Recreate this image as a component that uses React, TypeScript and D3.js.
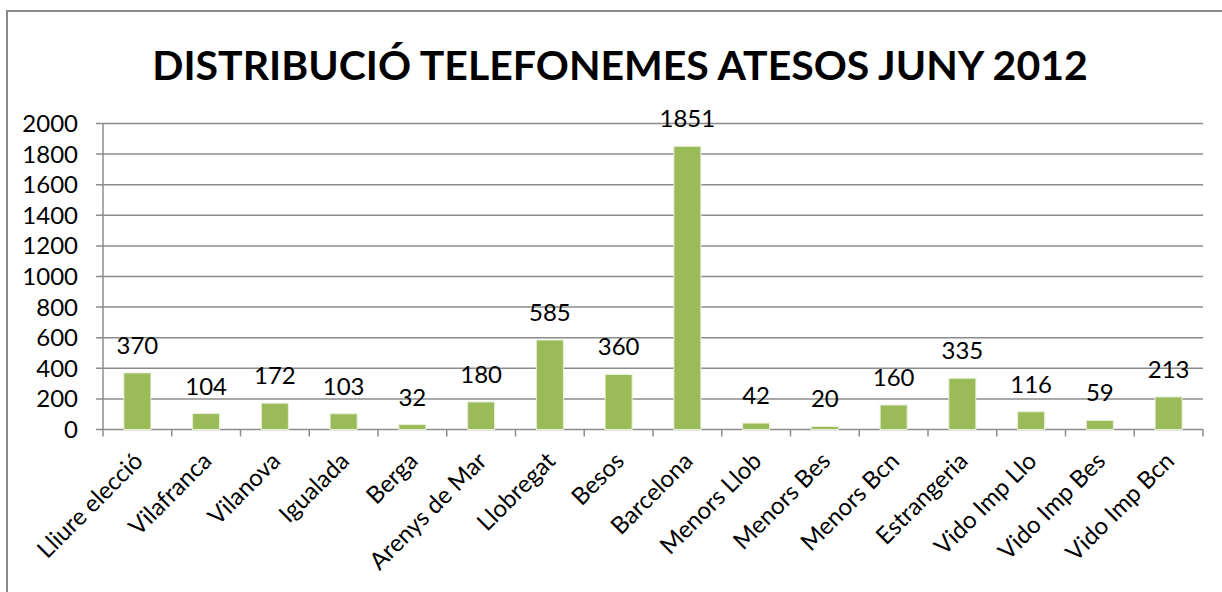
import React from "react";
import * as d3 from "d3";

const categories = [
  "Lliure elecció", "Vilafranca", "Vilanova", "Igualada", "Berga", "Arenys de Mar",
  "Llobregat", "Besos", "Barcelona", "Menors Llob", "Menors Bes", "Menors Bcn",
  "Estrangeria", "Vido Imp Llo", "Vido Imp Bes", "Vido Imp Bcn",
];
const values = [370, 104, 172, 103, 32, 180, 585, 360, 1851, 42, 20, 160, 335, 116, 59, 213];
const yTicks = [0, 200, 400, 600, 800, 1000, 1200, 1400, 1600, 1800, 2000];
const title = "DISTRIBUCIÓ TELEFONEMES ATESOS JUNY 2012";

const W = 1222, H = 592;
const left = 103, right = 1203, top = 123.5, bottom = 429.5;
const font = "Lato, 'Open Sans', sans-serif";
const grid = "#8c8c8c";

export default function App() {
  const x = d3.scaleBand<string>().domain(categories).range([left, right]).padding(0);
  const y = d3.scaleLinear().domain([0, 2000]).range([bottom, top]);
  const bandW = x.bandwidth();
  const edges = d3.range(categories.length + 1).map((i) => left + i * bandW);
  const cx = (c: string) => (x(c) as number) + bandW / 2;
  const bw = 27;
  return (
    <svg width={W} height={H} style={{ position: "absolute", left: 0, top: 0, background: "#fff" }}>
      <rect x={7} y={11} width={1240} height={620} fill="#fff" stroke="#8a8a8a" strokeWidth={2} />
      <text x={620} y={80} textAnchor="middle" fontFamily={font} fontWeight="bold" fontSize={41} fill="#000">{title}</text>
      {yTicks.map((t) => (
        <g key={t}>
          <line x1={left - 7} x2={right} y1={y(t)} y2={y(t)} stroke={grid} strokeWidth={1.5} />
          <text x={left - 25} y={y(t) + 8.5} textAnchor="end" fontFamily={font} fontSize={24} fill="#000">{t}</text>
        </g>
      ))}
      <line x1={left} x2={left} y1={top} y2={bottom} stroke={grid} strokeWidth={1.5} />
      {edges.map((e, i) => (
        <line key={i} x1={e} x2={e} y1={bottom} y2={bottom + 7} stroke={grid} strokeWidth={1.5} />
      ))}
      {values.map((v, i) => (
        <g key={i}>
          <rect x={cx(categories[i]) - bw / 2} y={y(v)} width={bw} height={bottom - y(v)} fill="#9bbb59" stroke="#e8f0d8" strokeWidth={1} />
          <text x={cx(categories[i])} y={y(v) - 19} textAnchor="middle" fontFamily={font} fontSize={24} fill="#000">{v}</text>
        </g>
      ))}
      {categories.map((c) => (
        <text key={c} transform={`translate(${cx(c) + 7},${bottom + 33}) rotate(-45)`} textAnchor="end"
          fontFamily={font} fontSize={24} fill="#000">{c}</text>
      ))}
    </svg>
  );
}
